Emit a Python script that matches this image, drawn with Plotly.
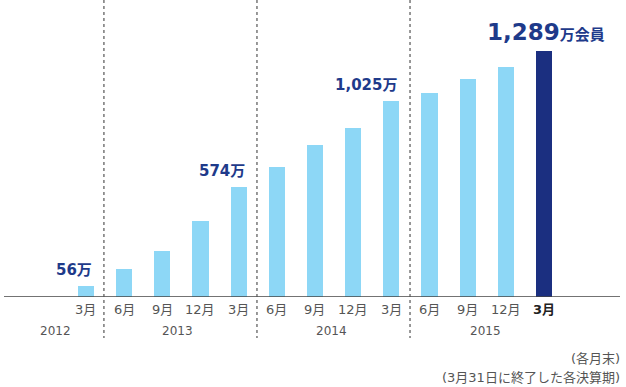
import plotly.graph_objects as go

# Member counts (万人) at each quarter end
months = ["3月", "6月", "9月", "12月", "3月", "6月", "9月", "12月", "3月", "6月", "9月", "12月", "3月"]
members = [56, 147, 241, 398, 574, 683, 797, 886, 1025, 1069, 1142, 1204, 1289]
years = ["2012", "2013", "2014", "2015"]
year_centers = [-0.8, 2.41, 6.42, 10.47]   # x position of each year label
year_dividers = [0.47, 4.48, 8.49]          # fiscal-year separators
value_labels = {0: "56万", 4: "574万", 8: "1,025万"}

W, H = 626, 387
X0, X1 = -2.253, 14.149
Y_MAX = 1556

LIGHT = "#8DD7F6"
DARK = "#1B2F80"
LABEL = "#1E3A8A"
GREY = "#555555"
FONT = "'DejaVu Sans', 'Noto Sans CJK JP', sans-serif"

x = list(range(len(members)))
colors = [LIGHT] * (len(members) - 1) + [DARK]

fig = go.Figure(go.Bar(
    x=x, y=members, width=0.42, marker=dict(color=colors, line=dict(width=0)),
    hoverinfo="skip",
))

annotations = []
# month tick labels
for i, m in enumerate(months):
    last = i == len(months) - 1
    annotations.append(dict(
        x=i, y=-12 / 297, xref="x", yref="paper", text=f"<b>{m}</b>" if last else m,
        showarrow=False, yanchor="middle", xanchor="center",
        font=dict(size=13, color="#222222" if last else GREY, family=FONT),
    ))
# year labels
for yc, yl in zip(year_centers, years):
    annotations.append(dict(
        x=yc, y=-34 / 297, xref="x", yref="paper", text=yl, showarrow=False,
        yanchor="middle", xanchor="center", font=dict(size=12, color=GREY, family=FONT),
    ))
# value labels above selected bars
for i, t in value_labels.items():
    annotations.append(dict(
        x=i + 0.21, y=members[i], xref="x", yref="y", text=f"<b>{t}</b>",
        showarrow=False, xanchor="right", yanchor="bottom", yshift=5,
        font=dict(size=15, color=LABEL, family=FONT),
    ))
last_i = len(members) - 1
annotations.append(dict(
    x=last_i + 1.66, y=members[last_i], xref="x", yref="y",
    text=f"<b><span style='font-size:23px'>{members[last_i]:,}</span>万会員</b>",
    showarrow=False, xanchor="right", yanchor="bottom", yshift=4,
    font=dict(size=15, color=LABEL, family=FONT),
))
# footnotes
annotations.append(dict(
    x=622 / W, y=(297 - 358) / 297, xref="paper", yref="paper", text="(各月末)",
    showarrow=False, xanchor="right", yanchor="middle",
    font=dict(size=13, color=GREY, family=FONT),
))
annotations.append(dict(
    x=622 / W, y=(297 - 377) / 297, xref="paper", yref="paper",
    text="(3月31日に終了した各決算期)",
    showarrow=False, xanchor="right", yanchor="middle",
    font=dict(size=13, color=GREY, family=FONT),
))

shapes = [dict(
    type="line", xref="paper", yref="y", x0=4 / W, x1=620 / W, y0=0, y1=0,
    line=dict(color="#444444", width=1.5),
)]
for d in year_dividers:
    shapes.append(dict(
        type="line", xref="x", yref="paper", x0=d, x1=d, y0=1, y1=(297 - 338) / 297,
        line=dict(color="#555555", width=1.2, dash="dot"),
    ))

fig.update_layout(
    width=W, height=H, margin=dict(l=0, r=0, t=0, b=90),
    paper_bgcolor="white", plot_bgcolor="white", showlegend=False,
    xaxis=dict(range=[X0, X1], visible=False, fixedrange=True),
    yaxis=dict(range=[0, Y_MAX], visible=False, fixedrange=True),
    annotations=annotations, shapes=shapes, bargap=0,
)

fig.write_html("out.html")
